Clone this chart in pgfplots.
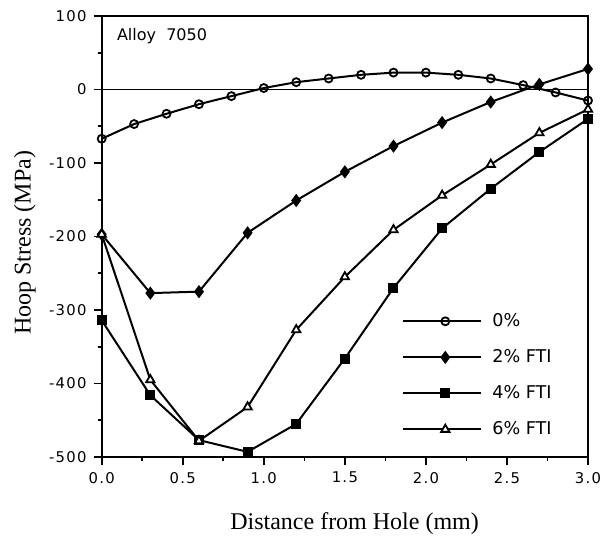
\documentclass[border=0pt]{standalone}
\usepackage{fontspec}
\setmainfont{DejaVu Sans}
\newfontfamily\serif{Liberation Serif}
\newfontfamily\tickfont[LetterSpace=9]{DejaVu Sans}
\usepackage{pgfplots}
\pgfplotsset{compat=1.18}
\begin{document}
\begin{tikzpicture}
\path[use as bounding box] (0,0) rectangle (301.5pt,269pt);
\begin{axis}[
  at={(50.85pt,40.5pt)}, anchor=south west,
  scale only axis, width=243.15pt, height=220.5pt,
  xmin=0, xmax=3, ymin=-500, ymax=100,
  axis line style={line width=0.9pt},
  xtick={0,0.5,1,1.5,2,2.5,3},
  xticklabels={0.0,0.5,1.0,1.5,2.0,2.5,3.0},
  ytick={-500,-400,-300,-200,-100,0,100},
  yticklabels={-500,-400,-300,-200,-100,0,100},
  minor x tick num=1, minor y tick num=1,
  tick align=outside, xtick pos=bottom, ytick pos=left,
  major tick length=4pt, minor tick length=2pt,
  tick style={line width=0.8pt, black},
  ticklabel style={font=\tickfont\fontsize{7.4}{8}\selectfont},
  xlabel={Distance from Hole (mm)},
  ylabel={Hoop Stress (MPa)},
  label style={font=\serif\fontsize{12}{14}\selectfont},
  xlabel style={at={(axis description cs:0.52,-0.152)}, anchor=center},
  ylabel style={at={(axis description cs:-0.158,0.486)}, anchor=center, rotate=0},
  legend style={draw=none, fill=none, font=\fontsize{8.8}{10}\selectfont,
    at={(axis description cs:0.605,0.345)}, anchor=north west,
    row sep=6pt, column sep=3pt},
  legend cell align=left,
  legend image code/.code={\draw[mark repeat=2,mark phase=2,#1] plot coordinates {(0pt,0pt) (21pt,0pt) (39pt,0pt)};},
  every axis plot/.append style={line width=1pt, black},
]
\addplot[forget plot, line width=0.7pt] coordinates {(0,0) (3,0)};
\addplot[mark=o, mark size=2pt, mark options={fill=white, line width=0.9pt}] coordinates {
(0,-67) (0.2,-47) (0.4,-33) (0.6,-20) (0.8,-9) (1.0,2) (1.2,10) (1.4,15) (1.6,20) (1.8,23) (2.0,23) (2.2,20) (2.4,15) (2.6,6) (2.8,-4) (3.0,-15)};
\addlegendentry{0\%}
\addplot[mark=diamond*, mark size=2.5pt, mark options={fill=black}] coordinates {
(0,-197) (0.3,-277) (0.6,-275) (0.9,-195) (1.2,-151) (1.5,-112) (1.8,-77) (2.1,-45) (2.4,-17) (2.7,7) (3.0,28)};
\addlegendentry{2\% FTI}
\addplot[mark=square*, mark size=2pt, mark options={fill=black}] coordinates {
(0,-314) (0.3,-416) (0.6,-477) (0.9,-493) (1.2,-455) (1.5,-366) (1.8,-270) (2.1,-189) (2.4,-135) (2.7,-85) (3.0,-40)};
\addlegendentry{4\% FTI}
\addplot[mark=triangle*, mark size=2.4pt, mark options={fill=white, line width=0.9pt}] coordinates {
(0,-197) (0.3,-395) (0.6,-478) (0.9,-432) (1.2,-327) (1.5,-255) (1.8,-191) (2.1,-144) (2.4,-102) (2.7,-59) (3.0,-27)};
\addlegendentry{6\% FTI}
\node[anchor=west, font=\fontsize{8}{10}\selectfont] at (axis description cs:0.017,0.955) {Alloy\ \ 7050};
\end{axis}
\end{tikzpicture}
\end{document}
